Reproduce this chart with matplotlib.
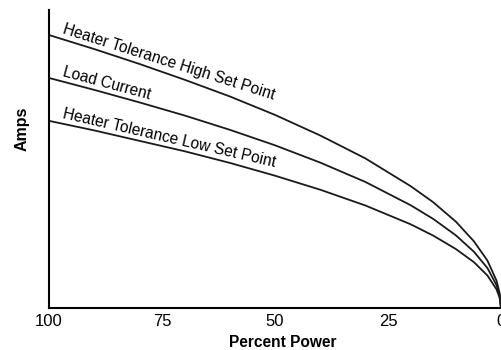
import matplotlib
matplotlib.use("Agg")
import matplotlib.pyplot as plt

plt.rcParams['font.family'] = ['Liberation Sans', 'DejaVu Sans']

# values (arbitrary amp units, axis has no ticks)
power = [100, 90, 80, 70, 60, 50, 40, 30, 20, 15, 10, 6, 3, 1, 0.3, 0]
high = [91.6, 86.9, 81.9, 76.6, 71.0, 64.8, 57.9, 50.2, 40.9, 35.5, 29.0, 22.4, 15.9, 9.2, 5.0, 0]
load = [77.2, 73.2, 69.0, 64.6, 59.8, 54.6, 48.8, 42.3, 34.5, 29.9, 24.4, 18.9, 13.4, 7.7, 4.2, 0]
low = [62.8, 59.6, 56.1, 52.6, 48.7, 44.4, 39.7, 34.4, 28.1, 24.3, 19.8, 15.4, 10.9, 6.3, 3.4, 0]

labels = ['Heater Tolerance High Set Point', 'Load Current', 'Heater Tolerance Low Set Point']
label_y = [92.3, 77.9, 63.8]
label_rot = [-17.5, -15, -13]
xticks = [100, 75, 50, 25, 0]

fig = plt.figure(figsize=(5.01, 3.5), dpi=100)
ax = fig.add_axes([0.0978, 0.12, 0.9022, 0.8514])

for series in (high, load, low):
    ax.plot(power, series, color='#1a1a1a', lw=1.3, solid_capstyle='butt')

for txt, y, rot in zip(labels, label_y, label_rot):
    ax.text(97.1, y, txt, fontsize=11.2, rotation=rot, rotation_mode='anchor',
            ha='left', va='baseline', color='black')

ax.set_xlim(100, 0)
ax.set_ylim(0, 100)
ax.set_xticks(xticks)
ax.set_xticklabels([str(t) for t in xticks], fontsize=12)
ax.set_yticks([])
ax.tick_params(axis='x', length=0, pad=4)

ax.spines['top'].set_visible(False)
ax.spines['right'].set_visible(False)
for s in ('left', 'bottom'):
    ax.spines[s].set_linewidth(1.5)
    ax.spines[s].set_color('black')

ax.set_xlabel('Percent Power', fontsize=11.2, fontweight='bold')
ax.xaxis.set_label_coords(0.518, -0.09)
ax.set_ylabel('Amps', fontsize=11.5, fontweight='bold')
ax.yaxis.set_label_coords(-0.042, 0.6)

fig.savefig('out.png', dpi=100)
